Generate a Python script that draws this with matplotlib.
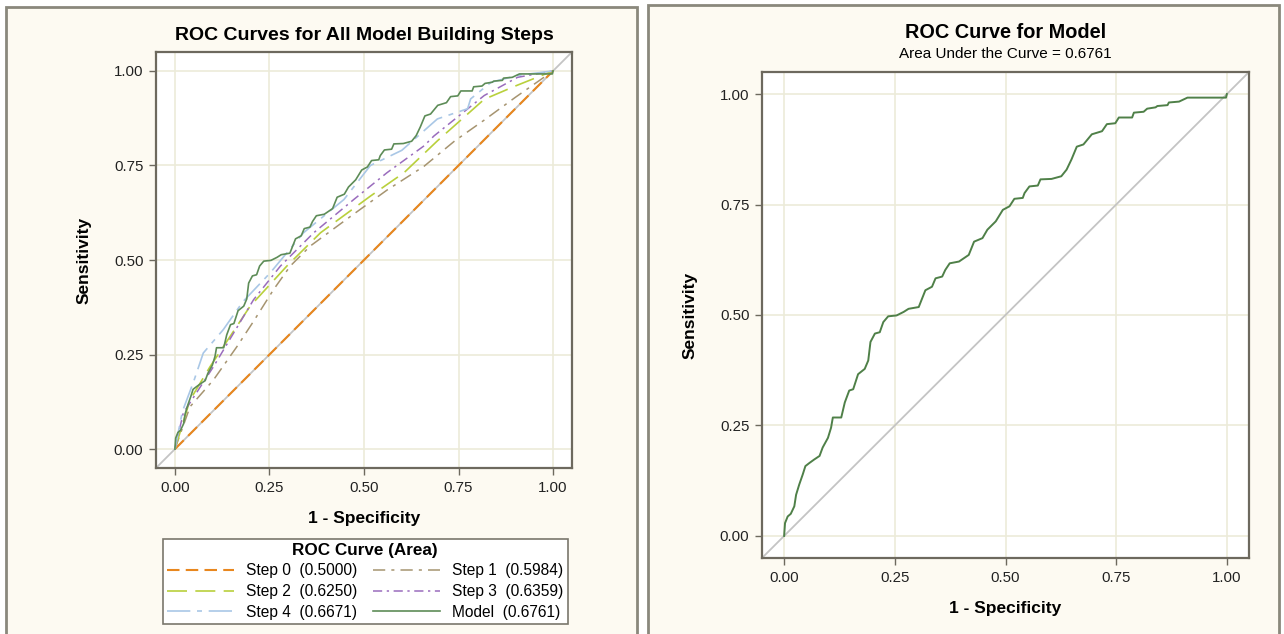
import numpy as np
import matplotlib
matplotlib.use("Agg")
from matplotlib import pyplot as plt
from matplotlib.patches import Rectangle

plt.rcParams['font.family'] = ['Liberation Sans', 'DejaVu Sans']

# Model ROC curve (1 - specificity, sensitivity)
model_fpr = [0.0, 0.002, 0.008, 0.015, 0.023, 0.027, 0.034, 0.042, 0.048, 0.057, 0.068, 0.080,
             0.087, 0.099, 0.106, 0.110, 0.129, 0.137, 0.147, 0.156, 0.167, 0.182, 0.190, 0.195,
             0.205, 0.216, 0.224, 0.235, 0.254, 0.270, 0.281, 0.304, 0.319, 0.334, 0.342, 0.357,
             0.364, 0.374, 0.395, 0.417, 0.429, 0.448, 0.459, 0.478, 0.494, 0.509, 0.520, 0.539,
             0.543, 0.554, 0.573, 0.579, 0.604, 0.626, 0.638, 0.649, 0.661, 0.676, 0.695, 0.718,
             0.729, 0.748, 0.756, 0.786, 0.790, 0.812, 0.820, 0.839, 0.843, 0.866, 0.869, 0.892,
             0.911, 0.998, 1.0]
model_tpr = [0.0, 0.029, 0.044, 0.050, 0.067, 0.093, 0.116, 0.139, 0.158, 0.165, 0.173, 0.181,
             0.200, 0.222, 0.245, 0.268, 0.268, 0.302, 0.329, 0.332, 0.366, 0.378, 0.397, 0.439,
             0.458, 0.461, 0.484, 0.497, 0.499, 0.507, 0.514, 0.518, 0.556, 0.564, 0.583, 0.587,
             0.602, 0.617, 0.621, 0.636, 0.666, 0.674, 0.693, 0.712, 0.738, 0.746, 0.763, 0.765,
             0.776, 0.791, 0.793, 0.807, 0.808, 0.814, 0.829, 0.852, 0.881, 0.886, 0.909, 0.916,
             0.932, 0.934, 0.947, 0.947, 0.958, 0.960, 0.967, 0.970, 0.973, 0.975, 0.981, 0.983,
             0.992, 0.992, 1.0]

step0_fpr = [0.0, 1.0]
step0_tpr = [0.0, 1.0]
step1_fpr = [0.0, 0.040, 0.102, 0.164, 0.208, 0.261, 0.305, 0.358, 0.464, 0.561, 0.659, 0.740, 0.818, 0.900, 1.0]
step1_tpr = [0.0, 0.112, 0.183, 0.271, 0.338, 0.422, 0.484, 0.537, 0.615, 0.685, 0.748, 0.815, 0.870, 0.930, 1.0]
step2_fpr = [0.0, 0.040, 0.093, 0.199, 0.296, 0.385, 0.517, 0.606, 0.694, 0.818, 0.900, 1.0]
step2_tpr = [0.0, 0.130, 0.218, 0.378, 0.484, 0.572, 0.669, 0.731, 0.815, 0.925, 0.960, 1.0]
step3_fpr = [0.0, 0.022, 0.102, 0.208, 0.279, 0.367, 0.473, 0.561, 0.659, 0.685, 0.818, 0.906, 1.0]
step3_tpr = [0.0, 0.095, 0.218, 0.395, 0.484, 0.572, 0.660, 0.731, 0.802, 0.828, 0.935, 0.983, 1.0]
step4_fpr = [0.0, 0.020, 0.050, 0.075, 0.128, 0.180, 0.252, 0.340, 0.447, 0.517, 0.600, 0.694, 0.774, 0.782, 0.836, 0.906, 1.0]
step4_tpr = [0.0, 0.100, 0.180, 0.254, 0.316, 0.390, 0.466, 0.572, 0.660, 0.750, 0.790, 0.873, 0.900, 0.926, 0.970, 0.988, 1.0]

step_labels = ['Step 0', 'Step 1', 'Step 2', 'Step 3', 'Step 4', 'Model']
step_areas = [0.5000, 0.5984, 0.6250, 0.6359, 0.6671, 0.6761]
ticks = [0.0, 0.25, 0.50, 0.75, 1.0]
tick_labels = ['0.00', '0.25', '0.50', '0.75', '1.00']

panel_bg = '#fdfaf2'
panel_edge = '#8a887c'
frame_col = '#6d695e'
grid_col = '#ecebd9'
ref_col = '#c4c4c4'

fig = plt.figure(figsize=(12.84, 6.34), dpi=100)
fig.patch.set_facecolor('white')

# panel boxes, drawn under the axes
W, H = 1284.0, 634.0
fig.patches.append(Rectangle((6 / W, -0.02), (637 - 6) / W, 1 - 7 / H + 0.02,
                             transform=fig.transFigure, facecolor=panel_bg,
                             edgecolor=panel_edge, lw=2, zorder=-10))
fig.patches.append(Rectangle((648 / W, -0.02), (1279 - 648) / W, 1 - 5 / H + 0.02,
                             transform=fig.transFigure, facecolor=panel_bg,
                             edgecolor=panel_edge, lw=2, zorder=-10))


def style_axes(ax):
    ax.set_xlim(-0.05, 1.05)
    ax.set_ylim(-0.05, 1.05)
    ax.set_xticks(ticks)
    ax.set_yticks(ticks)
    ax.set_xticklabels(tick_labels)
    ax.set_yticklabels(tick_labels)
    ax.grid(True, color=grid_col, lw=1.2)
    ax.set_axisbelow(True)
    for s in ax.spines.values():
        s.set_color(frame_col)
        s.set_linewidth(1.6)
    ax.tick_params(direction='out', length=5, width=1, color=frame_col,
                   labelsize=10.8, labelcolor='#222222', pad=4)
    ax.plot([-0.05, 1.05], [-0.05, 1.05], color=ref_col, lw=1.3, zorder=1)
    ax.set_xlabel('1 - Specificity', fontsize=12.5, fontweight='bold', labelpad=12)
    ax.set_ylabel('Sensitivity', fontsize=12.5, fontweight='bold', labelpad=16)


# left panel
ax1 = fig.add_axes([156 / W, 1 - 468 / H, 416 / W, 416 / H])
style_axes(ax1)
labs = [f'{n}  ({a:.4f})' for n, a in zip(step_labels, step_areas)]
l0, = ax1.plot(step0_fpr, step0_tpr, color='#e8871e', lw=1.5, dashes=(6, 3), label=labs[0])
l1, = ax1.plot(step1_fpr, step1_tpr, color='#a69470', lw=1.1, dashes=(8, 4, 2, 4), label=labs[1])
l2, = ax1.plot(step2_fpr, step2_tpr, color='#b9d03c', lw=1.2, dashes=(12, 5), label=labs[2])
l3, = ax1.plot(step3_fpr, step3_tpr, color='#9a6cbd', lw=1.1, dashes=(6, 3, 1.5, 3), label=labs[3])
l4, = ax1.plot(step4_fpr, step4_tpr, color='#a9c7e6', lw=1.2, dashes=(14, 4, 3, 4), label=labs[4])
l5, = ax1.plot(model_fpr, model_tpr, color='#5d8c57', lw=1.2, label=labs[5])
ax1.set_title('ROC Curves for All Model Building Steps', fontsize=14,
              fontweight='bold', pad=9)

leg = fig.legend(handles=[l0, l2, l4, l1, l3, l5], ncol=2,
                 loc='upper left', bbox_to_anchor=(163 / W, 1 - 539 / H),
                 title='ROC Curve (Area)', fontsize=11.2,
                 title_fontproperties={'weight': 'bold', 'size': 12.3},
                 frameon=True, fancybox=False, edgecolor='#7a776c',
                 facecolor='white', framealpha=1, handlelength=4.3,
                 columnspacing=1.0, labelspacing=0.36, borderpad=0.25,
                 handletextpad=0.8, borderaxespad=0)
leg.get_frame().set_linewidth(1.2)

# right panel
ax2 = fig.add_axes([762 / W, 1 - 558 / H, 487 / W, 486 / H])
style_axes(ax2)
ax2.plot(model_fpr, model_tpr, color='#4f8048', lw=1.4)
fig.text(1005.5 / W, 1 - 32 / H, 'ROC Curve for Model', ha='center', va='center',
         fontsize=14.3, fontweight='bold')
fig.text(1005.5 / W, 1 - 54 / H, 'Area Under the Curve = 0.6761', ha='center',
         va='center', fontsize=11)

fig.savefig('out.png', dpi=100)
